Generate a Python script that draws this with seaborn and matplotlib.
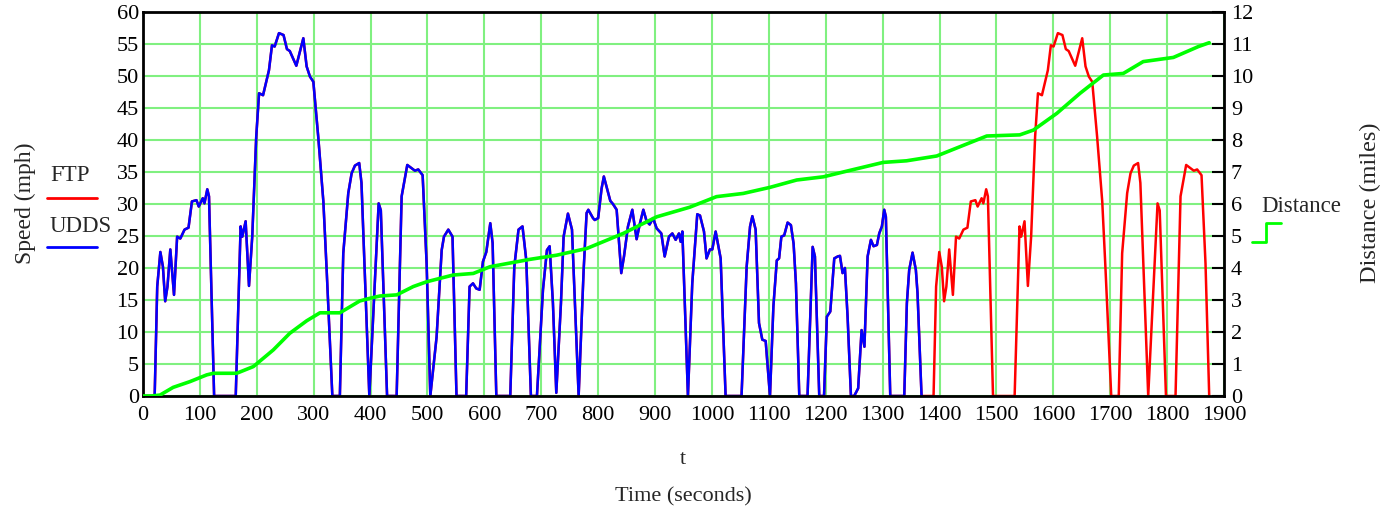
# FTP / UDDS drive cycle speed with cumulative distance

import numpy as np
import pandas as pd
import matplotlib
matplotlib.use('Agg')
import matplotlib.pyplot as plt
from matplotlib.lines import Line2D
import seaborn as sns

# UDDS speed trace (s, mph)
udds_t = [0, 20.5, 25, 30.5, 35, 39, 43, 48, 54.5, 60, 65.6, 73, 80, 86, 94, 98, 105, 108, 113, 116,
          125, 163, 171.6, 174.6, 180.4, 186.3, 192, 199, 204, 211, 221.4, 226.7, 231.4, 239, 247, 253,
          258, 269.5, 281.8, 287.6, 293.5, 299.4, 308, 317, 322.8, 332.8, 346, 352, 360.8, 366.7, 372.5,
          380, 384, 397.8, 414.2, 418, 429, 445.8, 454.6, 464.5, 472, 478, 483.8, 491.5, 498.5, 505,
          516, 525, 529, 536.6, 544, 551, 568, 574, 580, 585.8, 591.7, 597.5, 603.4, 610.4, 614.5, 621,
          645.5, 652.6, 660, 667, 673.7, 681.8, 692.4, 703, 710, 714.7, 720.5, 726.4, 734.6, 739.3,
          746.9, 754, 765.7, 774.5, 779.7, 782.7, 790.9, 794, 800, 806, 810, 821.3, 826, 832.5, 840.6,
          845.4, 852.4, 860, 867.6, 873.5, 879.4, 885.2, 890.5, 896.4, 902.8, 911, 916.9, 924.5, 930.4,
          936.2, 942, 945, 948, 957.8, 965.4, 974.2, 979, 986, 990.5, 996.5, 1000.6, 1006.5, 1015.3,
          1024, 1052, 1061, 1067, 1071, 1076.8, 1082.7, 1088.5, 1094.4, 1102, 1108, 1114, 1118, 1122,
          1127, 1133, 1138.8, 1143.5, 1147.6, 1153.5, 1168, 1177, 1181, 1188.6, 1197, 1202, 1208, 1215,
          1221, 1225, 1229.6, 1233.7, 1238.4, 1244.3, 1250, 1257, 1263, 1268, 1273.6, 1279.4, 1284,
          1290, 1294, 1298.7, 1302.8, 1305.7, 1313.4, 1338, 1342.6, 1346.7, 1352.6, 1358.4, 1361.3,
          1368.4, 1369]
udds_mph = [0, 0, 17.1, 22.5, 20.2, 14.8, 17.1, 22.9, 15.8, 24.9, 24.6, 26.0, 26.3, 30.4, 30.6, 29.6,
            30.9, 30.1, 32.3, 31.2, 0, 0, 26.5, 24.9, 27.3, 17.2, 24.9, 40.5, 47.3, 47.0, 50.9, 54.8,
            54.6, 56.7, 56.4, 54.2, 53.9, 51.6, 55.9, 51.5, 49.9, 49.1, 40.5, 30.4, 19.7, 0, 0, 22.3,
            31.7, 34.8, 36.0, 36.4, 33.3, 0, 30.1, 29.0, 0, 0, 31.2, 36.1, 35.6, 35.2, 35.4, 34.5, 20.7,
            0, 9.2, 22.8, 24.9, 26.0, 24.9, 0, 0, 17.1, 17.6, 16.8, 16.6, 21.0, 22.5, 27.0, 23.9, 0, 0,
            20.2, 26.0, 26.5, 21.2, 0, 0, 16.6, 22.8, 23.4, 14.5, 0.5, 14.5, 24.9, 28.5, 26.0, 0, 19.7,
            28.6, 29.1, 27.8, 27.5, 27.8, 32.4, 34.3, 30.5, 30.0, 29.1, 19.2, 21.8, 26.5, 29.1, 24.5,
            27.0, 29.1, 27.3, 26.8, 27.8, 26.2, 25.4, 21.8, 24.9, 25.4, 24.4, 25.4, 24.1, 25.7, 0, 17.6,
            28.4, 28.2, 25.7, 21.5, 22.9, 22.9, 25.7, 21.5, 0, 0, 20.2, 26.5, 28.1, 26.0, 11.4, 8.8, 8.6,
            0, 14.0, 21.2, 21.5, 24.9, 25.1, 27.1, 26.7, 23.8, 17.6, 0, 0, 23.3, 21.8, 0, 0, 12.4, 13.2,
            21.5, 21.8, 21.9, 19.2, 20.0, 12.4, 0, 0, 1.2, 10.3, 7.7, 21.8, 24.4, 23.4, 23.6, 25.4, 26.5,
            29.1, 28.0, 0, 0, 14.5, 19.7, 22.4, 19.7, 16.1, 0, 0]

# FTP = UDDS followed by a repeat of its first 505 s
hot_len = 505
udds_len = 1369

# distance (miles)
dist_t = [0, 15, 30, 53, 82.6, 112, 123.6, 164.6, 194, 229, 258, 287.7, 311, 346, 381, 398, 416.5, 446,
          475, 498.6, 545, 580.5, 610, 680, 727, 780, 844, 903, 961, 1008, 1055, 1102, 1149, 1196,
          1240, 1301, 1342, 1395, 1483, 1541, 1565, 1606, 1647, 1688, 1723, 1758, 1811, 1855, 1874]
dist_mi = [0, 0, 0.03, 0.27, 0.45, 0.66, 0.71, 0.71, 0.92, 1.44, 1.96, 2.35, 2.6, 2.6, 2.97, 3.05,
           3.125, 3.16, 3.42, 3.57, 3.78, 3.83, 4.04, 4.27, 4.4, 4.61, 5.08, 5.6, 5.9, 6.23, 6.33, 6.52,
           6.75, 6.85, 7.04, 7.3, 7.35, 7.5, 8.125, 8.16, 8.31, 8.83, 9.46, 10.03, 10.08, 10.45, 10.58,
           10.92, 11.04]

udds = pd.DataFrame({'t': udds_t, 'speed': udds_mph})
hot = udds[udds['t'] <= hot_len].copy()
hot['t'] = hot['t'] + udds_len
ftp = pd.concat([udds, hot], ignore_index=True)
dist = pd.DataFrame({'t': dist_t, 'miles': dist_mi})

sns.set_style('white')
plt.rcParams['font.family'] = ['Liberation Serif', 'DejaVu Serif']

fig = plt.figure(figsize=(13.93, 5.16), dpi=100)
ax = fig.add_axes([143 / 1393, 1 - 396 / 516, (1224 - 143) / 1393, (396 - 12) / 516])

sns.lineplot(data=ftp, x='t', y='speed', ax=ax, color='#ff0000', lw=1.8, estimator=None, sort=False)
sns.lineplot(data=udds, x='t', y='speed', ax=ax, color='#0000ff', lw=1.8, estimator=None, sort=False)

ax.set_xlim(0, 1900)
ax.set_ylim(0, 60)
ax.set_xticks(np.arange(0, 1901, 100))
ax.set_yticks(np.arange(0, 61, 5))
ax.grid(True, color='#80f080', lw=1.5)
ax.set_axisbelow(True)
ax.tick_params(axis='both', length=0, labelsize=16, colors='black')
ax.tick_params(axis='x', pad=7)
ax.tick_params(axis='y', pad=3)
ax.set_xlabel('')
ax.set_ylabel('')
for s in ax.spines.values():
    s.set_color('black')
    s.set_linewidth(2)

ax2 = ax.twinx()
sns.lineplot(data=dist, x='t', y='miles', ax=ax2, color='#00ff00', lw=2.6, estimator=None, sort=False)
ax2.set_ylim(0, 12)
ax2.set_yticks(np.arange(0, 13, 1))
ax2.tick_params(axis='y', direction='in', length=9, width=1.5, labelsize=16, pad=5, colors='black')
ax2.set_ylabel('')
ax2.set_xlabel('')
for s in ax2.spines.values():
    s.set_visible(False)

# labels
fig.text(683 / 1393, 1 - 460 / 516, 't', ha='center', va='center', fontsize=16)
fig.text(683 / 1393, 1 - 497 / 516, 'Time (seconds)', ha='center', va='center', fontsize=16)
fig.text(25 / 1393, 1 - 203 / 516, 'Speed (mph)', rotation=90, ha='center', va='center', fontsize=17)
fig.text(1370 / 1393, 1 - 203 / 516, 'Distance (miles)', rotation=90, ha='center', va='center', fontsize=17.5)

# legends
fig.text(50 / 1393, 1 - 176 / 516, 'FTP', ha='left', va='center', fontsize=16.5)
fig.add_artist(Line2D([47 / 1393, 97 / 1393], [1 - 198 / 516] * 2, color='#ff0000', lw=2))
fig.text(50 / 1393, 1 - 226 / 516, 'UDDS', ha='left', va='center', fontsize=16.5)
fig.add_artist(Line2D([47 / 1393, 97 / 1393], [1 - 247 / 516] * 2, color='#0000ff', lw=2))
fig.text(1261 / 1393, 1 - 206 / 516, 'Distance', ha='left', va='center', fontsize=16.5)
fig.add_artist(Line2D([1252 / 1393, 1266 / 1393, 1266 / 1393, 1281 / 1393],
                      [1 - 242 / 516, 1 - 242 / 516, 1 - 223 / 516, 1 - 223 / 516],
                      color='#00ff00', lw=2))

fig.savefig('out.png', dpi=100)
